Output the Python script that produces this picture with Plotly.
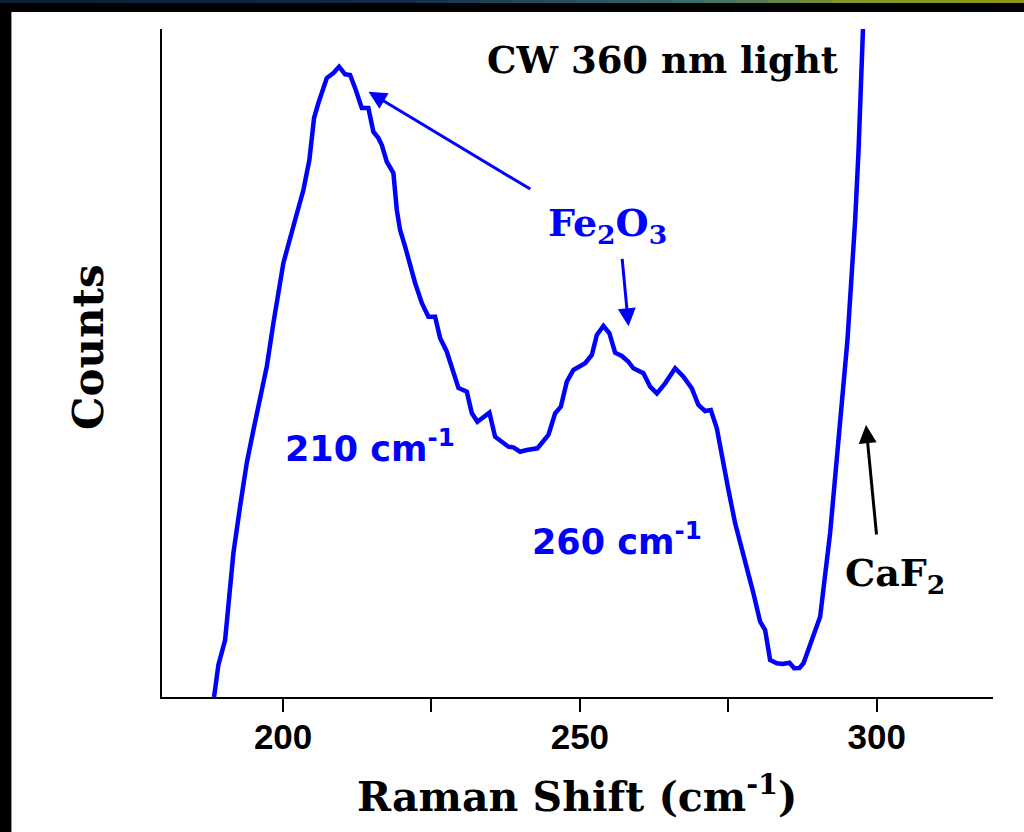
import numpy as np
import plotly.graph_objects as go

# ---------------- data ----------------
raman_shift = [188.37, 189.10, 190.23, 191.07, 191.63, 192.75, 193.88, 195.00, 196.12, 197.25,
               198.37, 200.05, 202.02, 203.42, 204.43, 205.22, 205.95, 206.79, 207.36, 208.48,
               209.44, 210.45, 211.29, 212.13, 213.26, 214.37, 215.21, 216.06, 216.63, 217.47,
               218.58, 219.16, 219.71, 220.56, 222.24, 223.37, 224.48, 225.61, 226.45, 227.58,
               228.69, 229.54, 230.95, 231.79, 232.74, 234.76, 235.72, 236.85, 237.96, 238.80,
               239.93, 241.06, 242.85, 244.70, 245.83, 246.79, 247.80, 248.91, 250.88, 252.01,
               252.86, 253.97, 254.98, 255.94, 257.07, 258.18, 259.02, 260.71, 261.84, 262.97,
               264.36, 266.05, 267.45, 268.86, 269.97, 271.10, 272.06, 273.07, 274.19, 275.03,
               276.16, 277.56, 279.24, 280.37, 281.21, 282.05, 283.18, 284.19, 285.31, 286.10,
               286.99, 287.67, 290.48, 292.16, 293.85, 295.08, 296.38, 296.93, 297.68, 297.89]
counts = [0.00, 4.79, 8.53, 17.51, 21.56, 28.49, 35.03, 39.97, 44.46, 49.45,
          55.99, 64.97, 71.41, 75.90, 80.39, 86.68, 88.92, 91.36, 92.66, 93.41,
          94.36, 93.22, 93.11, 91.17, 88.17, 88.17, 84.63, 83.68, 82.63, 80.13,
          78.44, 72.90, 69.91, 67.41, 61.98, 58.98, 56.93, 56.93, 53.74, 51.69,
          48.50, 46.26, 45.70, 42.51, 41.21, 42.56, 38.97, 38.22, 37.47, 37.38,
          36.72, 36.98, 37.23, 39.22, 42.47, 43.46, 47.20, 48.95, 49.96, 51.20,
          54.19, 55.54, 54.45, 51.54, 51.05, 50.19, 49.21, 48.46, 46.45, 45.46,
          46.96, 49.21, 47.95, 46.21, 43.71, 42.81, 42.96, 40.22, 34.48, 30.99,
          26.00, 21.51, 15.52, 11.27, 10.03, 5.54, 5.04, 4.94, 5.13, 4.30,
          4.34, 5.04, 12.02, 24.55, 40.46, 53.44, 71.41, 81.44, 99.60, 105.00]

tick_values = [200, 225, 250, 275, 300]
tick_labels = ["200", "", "250", "", "300"]

x_range = [179.6, 319.6]
y_range = [0, 100]

# ---------------- figure ----------------
W, H = 1024, 832
ML, MR, MT, MB = 162, 31, 29, 135
PW, PH = W - ML - MR, H - MT - MB

def px_x(px):
    return (px - ML) / PW

def px_y(py):
    return (H - MB - py) / PH

SERIF = "DejaVu Serif"
SANS = "DejaVu Sans"
TICKFONT = "Liberation Sans"
BLUE = "#0000FF"

fig = go.Figure()
fig.add_trace(go.Scatter(x=raman_shift, y=counts, mode="lines",
                         line=dict(color=BLUE, width=4.5), showlegend=False,
                         hoverinfo="skip"))

def label(x, y, text, family, size, color, **kw):
    d = dict(x=x, y=y, xref="x", yref="y", text=text, showarrow=False,
             xanchor="center", yanchor="middle",
             font=dict(family=family, size=size, color=color, weight="bold"))
    d.update(kw)
    return d

annotations = [
    label(264.0, 95.3, "CW 360 nm light", SERIF, 37, "black"),
    label(254.6, 70.6, "Fe<sub>2</sub>O<sub>3</sub>", SERIF, 38, BLUE),
    label(214.7, 37.6, "210 cm<sup>-1</sup>", SANS, 35, BLUE),
    label(256.2, 23.7, "260 cm<sup>-1</sup>", SANS, 35, BLUE),
    label(303.1, 18.3, "CaF<sub>2</sub>", SERIF, 38, "black"),
]
# arrows
for (tx, ty, sx, sy, col) in [(214.4, 90.6, 241.9, 75.9, BLUE),
                              (258.2, 55.5, 257.1, 65.8, BLUE),
                              (298.2, 40.7, 300.0, 24.1, "black")]:
    annotations.append(dict(x=tx, y=ty, ax=sx, ay=sy, xref="x", yref="y",
                            axref="x", ayref="y", text="", showarrow=True,
                            arrowhead=2, arrowsize=1.2, arrowwidth=3, arrowcolor=col))
# axis titles
annotations.append(dict(x=px_x(577), y=px_y(794), xref="paper", yref="paper",
                        xanchor="center", yanchor="middle",
                        text="Raman Shift (cm<sup>-1</sup>)", showarrow=False,
                        font=dict(family=SERIF, size=41, color="black", weight="bold")))
annotations.append(dict(x=px_x(88), y=px_y(347), xref="paper", yref="paper",
                        xanchor="center", yanchor="middle",
                        text="Counts", textangle=-90, showarrow=False,
                        font=dict(family=SERIF, size=42, color="black", weight="bold")))

# dark frame (top and left borders of the original slide)
shapes = [
    dict(type="rect", xref="paper", yref="paper", x0=px_x(0), x1=px_x(W), y0=px_y(12), y1=px_y(0),
         fillcolor="black", line=dict(width=0), layer="above"),
    dict(type="rect", xref="paper", yref="paper", x0=px_x(0), x1=px_x(11), y0=px_y(H), y1=px_y(0),
         fillcolor="black", line=dict(width=0), layer="above"),
    dict(type="line", xref="paper", yref="paper", x0=px_x(11.5), x1=px_x(11.5), y0=px_y(H), y1=px_y(12),
         line=dict(color="#9a9a9a", width=1), layer="above"),
]
stops_x = [0, 400, 700, 850, 1024]
stops_c = [(10, 30, 55), (15, 45, 75), (60, 110, 110), (130, 150, 40), (140, 150, 20)]
seg = 32
for i in range(seg):
    a, b = i * W / seg, (i + 1) * W / seg
    m = (a + b) / 2
    r = int(np.interp(m, stops_x, [c[0] for c in stops_c]))
    g = int(np.interp(m, stops_x, [c[1] for c in stops_c]))
    bl = int(np.interp(m, stops_x, [c[2] for c in stops_c]))
    shapes.append(dict(type="rect", xref="paper", yref="paper", x0=px_x(a), x1=px_x(b + 0.5),
                       y0=px_y(3), y1=px_y(0), fillcolor=f"rgb({r},{g},{bl})",
                       line=dict(width=0), layer="above"))

fig.update_layout(
    width=W, height=H,
    margin=dict(l=ML, r=MR, t=MT, b=MB, pad=0),
    paper_bgcolor="white", plot_bgcolor="white",
    showlegend=False,
    annotations=annotations,
    shapes=shapes,
    xaxis=dict(range=x_range, tickvals=tick_values, ticktext=tick_labels,
               showgrid=False, zeroline=False, showline=True, linecolor="black", linewidth=2,
               ticks="outside", ticklen=13, tickwidth=2, tickcolor="black",
               ticklabelstandoff=-5,
               tickfont=dict(family=TICKFONT, size=35, color="black", weight="bold")),
    yaxis=dict(range=y_range, showgrid=False, zeroline=False, showline=True,
               linecolor="black", linewidth=2, ticks="", showticklabels=False),
)

fig.write_html("out.html", config={"displayModeBar": False},
               post_script="document.body.style.margin='0px';")
